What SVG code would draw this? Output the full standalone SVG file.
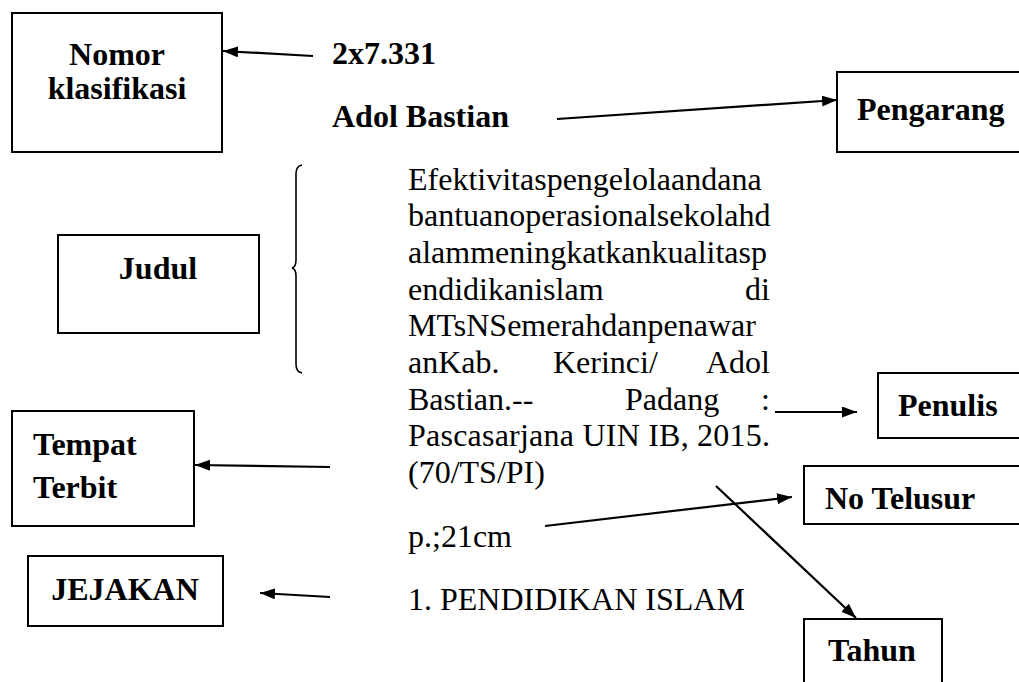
<svg xmlns="http://www.w3.org/2000/svg" width="1019" height="682" viewBox="0 0 1019 682">
<defs>
<marker id="ah" markerUnits="userSpaceOnUse" markerWidth="16" markerHeight="12" refX="15" refY="5.5" orient="auto">
<path d="M0,0 L15,5.5 L0,11 z" fill="#000"/>
</marker>
<style>
.box{fill:#fff;stroke:#000;stroke-width:2}
.lbl{font-family:"Liberation Serif","Times New Roman",serif;font-size:32px;font-weight:bold;fill:#000}
.txt{font-family:"Liberation Serif","Times New Roman",serif;font-size:32px;fill:#000}
.con{fill:none;stroke:#000;stroke-width:2.2;marker-end:url(#ah)}
</style>
</defs>
<rect width="1019" height="682" fill="#fff"/>

<g id="nomor">
<rect class="box" x="12" y="13" width="210" height="139"/>
<text class="lbl" x="117" y="65" text-anchor="middle">Nomor</text>
<text class="lbl" x="117" y="99" text-anchor="middle">klasifikasi</text>
</g>
<g id="pengarang">
<rect class="box" x="837" y="72" width="190" height="80"/>
<text class="lbl" x="857" y="120">Pengarang</text>
</g>
<g id="judul">
<rect class="box" x="58" y="235" width="201" height="98"/>
<text class="lbl" x="158" y="279" text-anchor="middle">Judul</text>
</g>
<g id="tempat">
<rect class="box" x="12" y="411" width="182" height="115"/>
<text class="lbl" x="33" y="455">Tempat</text>
<text class="lbl" x="33" y="498">Terbit</text>
</g>
<g id="jejakan">
<rect class="box" x="28" y="556" width="195" height="70"/>
<text class="lbl" x="125" y="600" text-anchor="middle">JEJAKAN</text>
</g>
<g id="penulis">
<rect class="box" x="878" y="373" width="150" height="65"/>
<text class="lbl" x="898" y="416">Penulis</text>
</g>
<g id="notelusur">
<rect class="box" x="804" y="466" width="230" height="58"/>
<text class="lbl" x="825" y="509">No Telusur</text>
</g>
<g id="tahun">
<rect class="box" x="804" y="619" width="138" height="70"/>
<text class="lbl" x="872" y="661" text-anchor="middle">Tahun</text>
</g>

<g id="entry">
<text class="lbl" x="332" y="64">2x7.331</text>
<text class="lbl" x="332" y="127">Adol Bastian</text>
<path d="M302,165 Q296,166 296,174 L296,260 Q296,267 292,268 Q296,269 296,276 L296,364 Q296,372 302,373" fill="none" stroke="#000" stroke-width="1.6"/>
<text class="txt" x="408" y="190">Efektivitaspengelolaandana</text>
<text class="txt" x="408" y="226">bantuanoperasionalsekolahd</text>
<text class="txt" x="408" y="263">alammeningkatkankualitasp</text>
<text class="txt" x="408" y="300">endidikanislam</text>
<text class="txt" x="770" y="300" text-anchor="end">di</text>
<text class="txt" x="408" y="336">MTsNSemerahdanpenawar</text>
<text class="txt" x="408" y="373">anKab.</text>
<text class="txt" x="553" y="373">Kerinci/</text>
<text class="txt" x="770" y="373" text-anchor="end">Adol</text>
<text class="txt" x="408" y="410">Bastian.--</text>
<text class="txt" x="625" y="410">Padang</text>
<text class="txt" x="770" y="410" text-anchor="end">:</text>
<text class="txt" x="408" y="446" textLength="362" lengthAdjust="spacing">Pascasarjana UIN IB, 2015.</text>
<text class="txt" x="408" y="483">(70/TS/PI)</text>
<text class="txt" x="408" y="547">p.;21cm</text>
<text class="txt" x="408" y="610">1. PENDIDIKAN ISLAM</text>
</g>

<g id="connectors">
<path class="con" d="M313,56 L223,51"/>
<path class="con" d="M557,119 L837,100"/>
<path class="con" d="M330,467 L195,465"/>
<path class="con" d="M330,597 L260,593"/>
<path class="con" d="M775,412 L857,412"/>
<path class="con" d="M545,526 L792,497"/>
<path class="con" d="M716,486 L856,618"/>
</g>
</svg>
